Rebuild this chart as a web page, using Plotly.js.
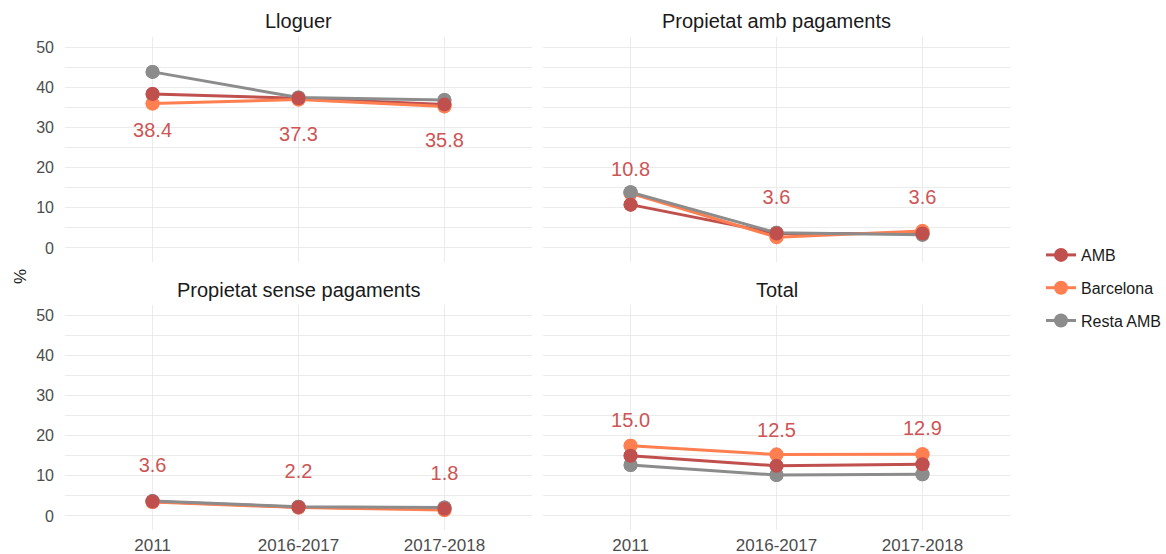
<!DOCTYPE html>
<html>
<head>
<meta charset="utf-8">
<script src="https://cdn.plot.ly/plotly-3.0.1.min.js"></script>
<style>html,body{margin:0;padding:0;background:#fff;}#chart{width:1166px;height:554px;}</style>
</head>
<body>
<div id="chart"></div>
<script>
// ---- Data ----
const periods = ["2011", "2016-2017", "2017-2018"];
const panelTitles = ["Lloguer", "Propietat amb pagaments", "Propietat sense pagaments", "Total"];
const seriesNames = ["AMB", "Barcelona", "Resta AMB"];

// values per panel (order: Lloguer, Propietat amb pagaments, Propietat sense pagaments, Total)
const ambValues       = [[38.4, 37.3, 35.8], [10.8, 3.6, 3.6], [3.6, 2.2, 1.8], [15.0, 12.5, 12.9]];
const barcelonaValues = [[36.0, 37.0, 35.3], [13.6, 2.7, 4.2], [3.5, 2.1, 1.5], [17.5, 15.3, 15.4]];
const restaValues     = [[43.9, 37.5, 36.9], [13.9, 3.8, 3.3], [3.7, 2.3, 2.1], [12.7, 10.2, 10.4]];

// labels shown (AMB values) and their vertical nudge
const labelNudge = [-9.5, 8.5, 8.5, 8.5];

const yTicks = [0, 10, 20, 30, 40, 50];

// ---- Styling ----
const colors = {"AMB": "#C0504D", "Barcelona": "#FF7F50", "Resta AMB": "#8C8C8C"};
const labelColor = "#CD5555";
const font = "Liberation Sans, Arial, sans-serif";

const l = 60, r = 150, t = 30, b = 20, W = 1166, H = 554;
const pw = W - l - r, ph = H - t - b;
const px2x = p => (p - l) / pw;
const px2y = p => (H - b - p) / ph;

const xDomains = [[px2x(65), px2x(532)], [px2x(543), px2x(1010)]];
const yDomains = [[px2y(262), px2y(37)], [px2y(530), px2y(305)]];

const data = [];
const layout = {
  width: W, height: H,
  margin: {l: l, r: r, t: t, b: b, autoexpand: false},
  paper_bgcolor: "#fff", plot_bgcolor: "#fff",
  font: {family: font, color: "#4D4D4D", size: 16},
  showlegend: true,
  legend: {
    x: px2x(1041), xanchor: "left", y: px2y(288), yanchor: "middle",
    traceorder: "grouped", tracegroupgap: 9,
    font: {family: font, size: 16, color: "#1A1A1A"},
    itemwidth: 30
  },
  annotations: [],
  hovermode: false
};

const seriesData = {"AMB": ambValues, "Barcelona": barcelonaValues, "Resta AMB": restaValues};
const lineOrder = ["AMB", "Barcelona", "Resta AMB"];
const pointOrder = ["Barcelona", "Resta AMB", "AMB"];
const legendRank = {"AMB": 1, "Barcelona": 2, "Resta AMB": 3};

for (let p = 0; p < 4; p++) {
  const col = p % 2, row = Math.floor(p / 2);
  const idx = p + 1;
  const xa = "x" + (idx === 1 ? "" : idx), ya = "y" + (idx === 1 ? "" : idx);
  const xKey = "xaxis" + (idx === 1 ? "" : idx), yKey = "yaxis" + (idx === 1 ? "" : idx);

  layout[xKey] = {
    domain: xDomains[col], anchor: ya,
    type: "category", categoryarray: periods, categoryorder: "array",
    range: [-0.6, 2.6], showgrid: true, gridcolor: "#EBEBEB", gridwidth: 1,
    zeroline: false, showline: false, ticks: "",
    showticklabels: row === 1, ticklabelstandoff: 3,
    tickfont: {family: font, size: 17, color: "#4D4D4D"}
  };
  layout[yKey] = {
    domain: yDomains[row], anchor: xa,
    range: [-3.5, 52.6], tickvals: yTicks, ticktext: yTicks.map(String),
    showgrid: true, gridcolor: "#EBEBEB", gridwidth: 1,
    minor: {dtick: 5, tick0: 0, showgrid: true, gridcolor: "#EBEBEB", gridwidth: 1},
    zeroline: false, showline: false, ticks: "",
    showticklabels: col === 0, ticklabelstandoff: 10,
    tickfont: {family: font, size: 16, color: "#4D4D4D"}
  };

  // lines (and legend entries)
  lineOrder.forEach(name => {
    data.push({
      type: "scatter", mode: "lines+markers",
      x: periods, y: seriesData[name][p], xaxis: xa, yaxis: ya,
      name: name, legendgroup: name, legendrank: legendRank[name],
      showlegend: p === 0,
      line: {color: colors[name], width: 3},
      marker: {color: colors[name], size: 14}
    });
  });
  // points on top of all lines
  pointOrder.forEach(name => {
    data.push({
      type: "scatter", mode: "markers",
      x: periods, y: seriesData[name][p], xaxis: xa, yaxis: ya,
      name: name, legendgroup: name, showlegend: false,
      marker: {color: colors[name], size: 14}
    });
  });

  data.push({
    type: "scatter", mode: "text",
    x: periods, y: ambValues[p].map(v => v + labelNudge[p]),
    text: ambValues[p].map(v => v.toFixed(1)),
    textposition: "middle center",
    textfont: {family: font, size: 20, color: labelColor},
    xaxis: xa, yaxis: ya, showlegend: false
  });

  layout.annotations.push({
    text: panelTitles[p], showarrow: false,
    xref: "paper", yref: "paper",
    x: (xDomains[col][0] + xDomains[col][1]) / 2,
    y: row === 0 ? px2y(21) : px2y(290),
    xanchor: "center", yanchor: "middle",
    font: {family: font, size: 20, color: "#1A1A1A"}
  });
}

layout.annotations.push({
  text: "%", showarrow: false, textangle: -90,
  xref: "paper", yref: "paper", x: px2x(20), y: px2y(277),
  xanchor: "center", yanchor: "middle",
  font: {family: font, size: 17, color: "#1A1A1A"}
});

Plotly.newPlot("chart", data, layout, {displayModeBar: false, staticPlot: true});
</script>
</body>
</html>
